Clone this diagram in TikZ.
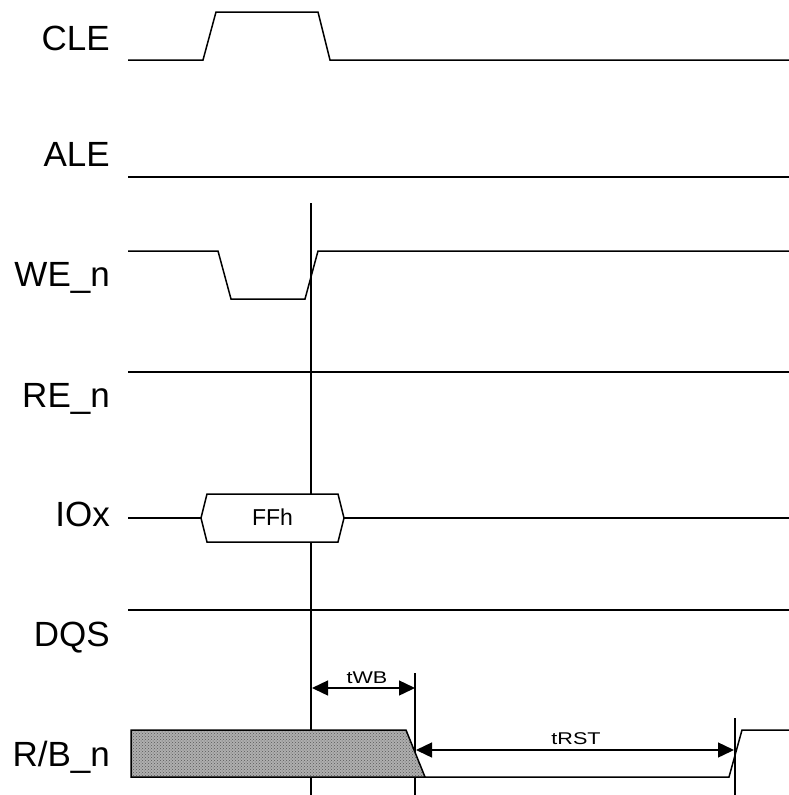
\documentclass[tikz,border=0pt]{standalone}
\usepackage{fontspec}
\setmainfont{Liberation Sans}
\usetikzlibrary{arrows.meta,patterns}
\definecolor{hatchbg}{RGB}{175,175,175}
\begin{document}
\begin{tikzpicture}[x=1pt,y=-1pt,
  sig/.style={line width=1.5pt,line join=miter},
  lbl/.style={anchor=base east,inner sep=0pt,font=\fontsize{35}{40}\selectfont},
  small/.style={inner sep=0pt,font=\fontsize{17}{20}\selectfont},
  marker/.style={line width=1.4pt},
  dim/.style={line width=1.4pt,{Triangle[length=16pt,width=15pt]}-{Triangle[length=16pt,width=15pt]}}]
\useasboundingbox (0,0) rectangle (789,795);

% timing markers (interrupted by the FFh box and the busy box)
\coordinate (m1t) at (311,203);
\coordinate (m1a) at (311,494);
\coordinate (m1c) at (311,542);
\coordinate (m1d) at (311,730);
\coordinate (m1e) at (311,777);
\coordinate (m1b) at (311,795);
\coordinate (m2t) at (415,673);
\coordinate (m2b) at (415,795);
\coordinate (m3t) at (735,718);
\coordinate (m3b) at (735,795);
\draw[marker] (m1t) -- (m1a) (m1c) -- (m1d) (m1e) -- (m1b);
\draw[marker] (m2t) -- (m2b);
\draw[marker] (m3t) -- (m3b);

% labels
\node[lbl] (cle) at (110,50) {CLE};
\node[lbl] (ale) at (110,166) {ALE};
\node[lbl] (we) at (110,286) {WE\_n};
\node[lbl] (re) at (110,407) {RE\_n};
\node[lbl] (io) at (110,526) {IOx};
\node[lbl] (dqs) at (110,646) {DQS};
\node[lbl] (rb) at (110,766) {R/B\_n};

% CLE
\draw[sig] (128,60) -- (203,60) -- (216,12) -- (318,12) -- (330,60) -- (789,60);
% ALE
\draw[sig] (128,177) -- (789,177);
% WE_n
\draw[sig] (128,251) -- (218,251) -- (231,299) -- (305,299) -- (318,251) -- (789,251);
% RE_n
\draw[sig] (128,372) -- (789,372);
% IOx
\draw[sig] (128,518) -- (201,518);
\draw[sig,fill=white] (201,518) -- (207,494) -- (338,494) -- (344,518) -- (338,542) -- (207,542) -- cycle;
\node[inner sep=0pt,font=\fontsize{23}{26}\selectfont,anchor=base] (ffh) at (272.5,525) {FFh};
\draw[sig] (344,518) -- (789,518);
% DQS
\draw[sig] (128,610) -- (789,610);
% R/B_n
\fill[hatchbg] (131,730) -- (406,730) -- (425,777) -- (131,777) -- cycle;
\fill[pattern=crosshatch dots,pattern color=gray!70!black] (131,730) -- (406,730) -- (425,777) -- (131,777) -- cycle;
\draw[sig] (131,730) -- (406,730) -- (425,777) -- (131,777) -- cycle;
\draw[sig] (425,777) -- (729,777) -- (742,730) -- (789,730);

% dimensions
\coordinate (a1) at (312,688);
\coordinate (a2) at (415,688);
\coordinate (b1) at (416,750);
\coordinate (b2) at (734,750);
\draw[dim] (a1) -- (a2);
\draw[dim] (b1) -- (b2);
\node[small,anchor=base] (twb) at (367,683) {\scalebox{1.27}[1]{tWB}};
\node[small,anchor=base] (trst) at (576,744) {\scalebox{1.27}[1]{tRST}};
\end{tikzpicture}
\end{document}
